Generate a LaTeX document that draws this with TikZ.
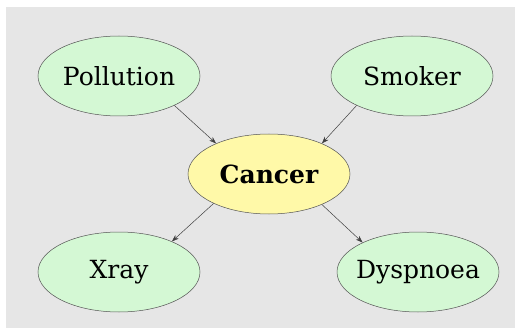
\documentclass[tikz,border=0pt]{standalone}
\usepackage{fontspec}
\setmainfont{DejaVu Serif}
\usetikzlibrary{shapes.geometric,arrows.meta}
\definecolor{panel}{HTML}{E6E6E6}
\definecolor{leaf}{HTML}{D4F8D4}
\definecolor{hub}{HTML}{FFF9A8}
\definecolor{rim}{HTML}{555555}
% zero-width label so every ellipse keeps the same fixed size
\newcommand\varlabel[1]{\makebox[0pt]{#1}}
\tikzset{
  var/.style={ellipse, draw=rim, line width=0.5pt, fill=leaf,
    minimum width=162pt, minimum height=80pt, inner sep=0pt,
    font=\fontsize{25}{28}\selectfont},
  focus/.style={var, fill=hub, font=\fontsize{25}{28}\selectfont\bfseries},
  link/.style={draw=black!75, line width=0.5pt, -{Stealth[length=7pt,width=5pt]}}
}
\begin{document}
\begin{tikzpicture}[x=1pt,y=-1pt]
  \useasboundingbox (0,0) rectangle (515,329);
  \fill[white] (0,0) rectangle (515,329);
  \fill[panel] (6,7) rectangle (515,328);
  \node[var] (pollution) at (119,76) {\varlabel{Pollution}};
  \node[var] (smoker) at (412,76) {\varlabel{Smoker}};
  \node[focus] (cancer) at (269,174) {\varlabel{Cancer}};
  \node[var] (xray) at (119,272) {\varlabel{Xray}};
  \node[var] (dysp) at (418,272) {\varlabel{Dyspnoea}};
  \draw[link] (pollution.-28) -- (cancer.150);
  \draw[link] (smoker.208) -- (cancer.30);
  \draw[link] (cancer.208) -- (xray.30);
  \draw[link] (cancer.-30) -- (dysp.152);
\end{tikzpicture}
\end{document}
